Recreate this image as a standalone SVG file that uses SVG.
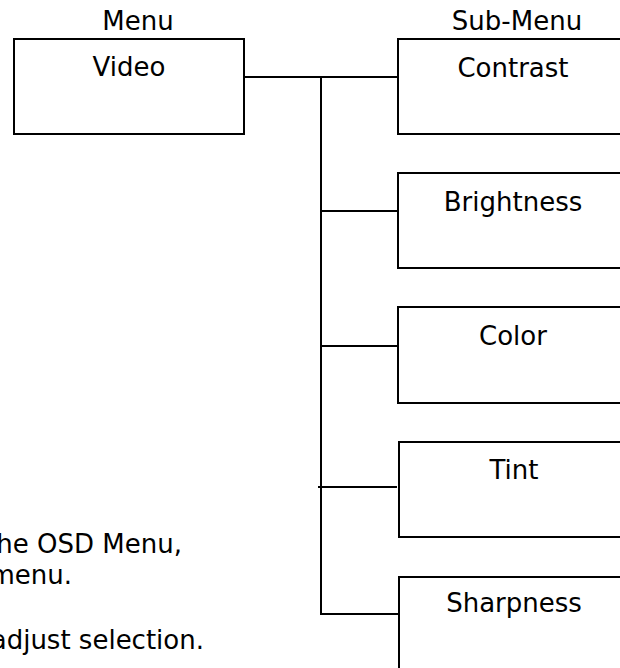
<svg xmlns="http://www.w3.org/2000/svg" width="620" height="668" viewBox="0 0 620 668">
<style>
.box{fill:#fff;stroke:#000;stroke-width:2}
.ln{stroke:#000;stroke-width:2;fill:none}
text{font-family:"DejaVu Sans",Verdana,sans-serif;font-size:26px;fill:#000}
.c{text-anchor:middle}
</style>
<rect width="620" height="668" fill="#fff"/>
<g id="connectors">
<line class="ln" x1="244" y1="77" x2="398" y2="77"/>
<line class="ln" x1="321" y1="76" x2="321" y2="615"/>
<line class="ln" x1="321" y1="211" x2="398" y2="211"/>
<line class="ln" x1="321" y1="346" x2="398" y2="346"/>
<line class="ln" x1="318" y1="487" x2="397" y2="487"/>
<line class="ln" x1="320" y1="614" x2="399" y2="614"/>
</g>
<g id="labels">
<text class="c" x="138" y="30">Menu</text>
<text class="c" x="517" y="30">Sub-Menu</text>
</g>
<g id="video"><rect class="box" x="14" y="39" width="230" height="95"/><text class="c" x="129" y="76">Video</text></g>
<g id="contrast"><rect class="box" x="398" y="39" width="230" height="95"/><text class="c" x="513" y="77">Contrast</text></g>
<g id="brightness"><rect class="box" x="398" y="173" width="230" height="95"/><text class="c" x="513" y="211">Brightness</text></g>
<g id="color"><rect class="box" x="398" y="307" width="230" height="96"/><text class="c" x="513" y="345">Color</text></g>
<g id="tint"><rect class="box" x="399" y="442" width="230" height="95"/><text class="c" x="514" y="479">Tint</text></g>
<g id="sharpness"><rect class="box" x="399" y="577" width="230" height="95"/><text class="c" x="514" y="612">Sharpness</text></g>
<g id="notes">
<text x="182" y="553" text-anchor="end">he OSD Menu,</text>
<text x="72" y="584" text-anchor="end">menu.</text>
<text x="204" y="649" text-anchor="end">adjust selection.</text>
</g>
</svg>
